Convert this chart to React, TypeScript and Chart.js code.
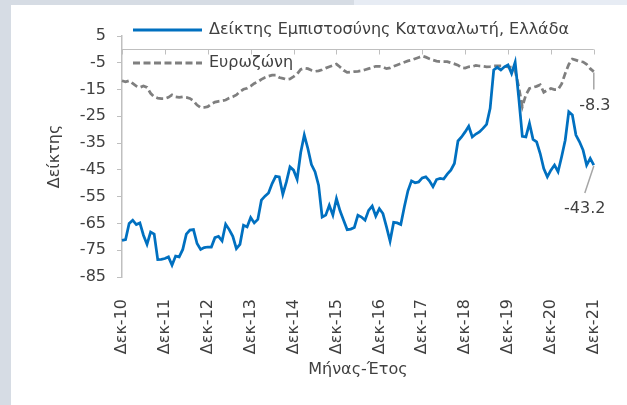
import React, { useEffect, useRef } from "react";
import { Chart, registerables } from "chart.js";
Chart.register(...registerables);

const monthNames = ["Ιαν", "Φεβ", "Μαρ", "Απρ", "Μαΐ", "Ιουν", "Ιουλ", "Αυγ", "Σεπ", "Οκτ", "Νοε", "Δεκ"];
const yearTicks = ["Δεκ-10", "Δεκ-11", "Δεκ-12", "Δεκ-13", "Δεκ-14", "Δεκ-15", "Δεκ-16", "Δεκ-17", "Δεκ-18", "Δεκ-19", "Δεκ-20", "Δεκ-21"];
const seriesNames = ["Δείκτης Εμπιστοσύνης Καταναλωτή, Ελλάδα", "Ευρωζώνη"];
const xTitle = "Μήνας-Έτος";
const yTitle = "Δείκτης";
const yMin = -85;
const yMax = 5;
const yStep = 10;

// Greece consumer confidence, monthly Dec-2010 .. Dec-2021
const greece = [
  -71.3, -71.0, -65.0, -63.8, -65.4, -64.8, -69.4, -72.8, -68.2, -69.0, -78.5, -78.4,
  -78.1, -77.5, -80.6, -77.2, -77.5, -74.7, -69.0, -67.5, -67.3, -72.5, -74.7, -74.0,
  -73.8, -73.8, -70.3, -69.8, -71.5, -65.3, -67.3, -69.8, -74.4, -72.8, -65.7, -66.3,
  -62.8, -64.8, -63.5, -56.3, -54.8, -53.6, -50.1, -47.4, -47.6, -54.1, -49.5, -43.9,
  -45.1, -48.5, -38.5, -32.0, -37.0, -43.0, -45.7, -50.7, -62.6, -61.9, -58.2, -61.9,
  -55.7, -60.3, -63.8, -67.3, -67.1, -66.5, -61.9, -62.6, -63.8, -60.1, -58.5, -62.3,
  -59.5, -61.3, -66.3, -71.6, -64.6, -64.8, -65.4, -58.8, -52.8, -49.1, -49.8, -49.5,
  -48.0, -47.6, -49.1, -51.3, -48.6, -48.2, -48.4, -46.6, -45.1, -42.6, -34.2, -32.7,
  -30.8, -28.7, -32.7, -31.6, -30.8, -29.5, -28.0, -22.0, -7.7, -6.7, -7.7, -6.5,
  -5.8, -9.0, -4.8, -18.0, -32.5, -32.7, -27.6, -33.6, -34.5, -38.9, -44.5, -47.6,
  -45.1, -43.2, -45.7, -40.1, -33.9, -23.3, -24.5, -32.0, -34.5, -37.6, -43.2, -40.7,
  -43.2,
];

// Euro area consumer confidence, monthly Dec-2010 .. Dec-2021
const eurozone = [
  -11.7, -12.1, -11.7, -12.7, -13.7, -14.2, -13.7, -14.2, -16.4, -17.7, -18.2, -18.4,
  -18.4, -17.9, -17.0, -17.7, -17.9, -17.7, -17.9, -18.3, -19.2, -20.8, -21.7, -21.7,
  -21.4, -20.4, -19.7, -19.4, -19.2, -18.9, -18.2, -17.7, -17.0, -15.8, -14.9, -14.5,
  -13.7, -12.7, -12.1, -11.2, -10.5, -10.0, -9.6, -9.6, -10.5, -10.8, -11.2, -11.0,
  -10.2, -9.2, -7.5, -7.0, -7.2, -7.8, -8.2, -8.0, -7.6, -7.0, -6.5, -6.0,
  -5.5, -6.6, -7.8, -8.6, -8.5, -8.3, -8.2, -8.0, -7.6, -7.2, -6.8, -6.3,
  -6.3, -6.6, -7.2, -6.9, -6.3, -5.8, -5.3, -4.8, -4.3, -4.0, -3.5, -3.0,
  -2.5, -2.9, -3.5, -4.0, -4.4, -4.6, -4.6, -4.6, -5.0, -5.4, -5.9, -6.8,
  -7.0, -6.5, -6.4, -6.0, -6.2, -6.3, -6.5, -6.4, -6.2, -6.2, -6.2, -6.3,
  -6.5, -6.6, -8.0, -14.0, -21.4, -17.0, -14.6, -14.2, -13.8, -13.2, -16.0, -15.2,
  -14.6, -15.0, -15.0, -12.9, -9.0, -5.6, -3.6, -4.0, -4.5, -4.7, -5.6, -7.2,
  -8.3,
];

const categories: string[] = [];
for (let i = 0; i < greece.length; i++) {
  const k = 11 + i;
  categories.push(`${monthNames[k % 12]}-${10 + Math.floor(k / 12)}`);
}

const FONT = "'DejaVu Sans', sans-serif";
const TEXT = "#404040";
const AXIS = "#bfbfbf";
const BLUE = "#0070c0";
const GREY = "#7f7f7f";
const LEADER = "#a6a6a6";
const DASH = [7, 3.5];

const overlay = {
  id: "overlay",
  beforeDatasetsDraw(chart: any) {
    const { ctx, chartArea, scales } = chart;
    const xs = scales.x;
    const ys = scales.y;
    const y0 = Math.round(ys.getPixelForValue(0)) + 0.5;
    ctx.save();
    ctx.strokeStyle = AXIS;
    ctx.lineWidth = 1;
    ctx.beginPath();
    ctx.moveTo(chartArea.left, y0);
    ctx.lineTo(chartArea.right, y0);
    categories.forEach((c, i) => {
      if (yearTicks.includes(c)) {
        const px = Math.round(xs.getPixelForValue(i)) + 0.5;
        ctx.moveTo(px, y0);
        ctx.lineTo(px, y0 + 5);
      }
    });
    ctx.stroke();
    ctx.restore();
  },
  afterDatasetsDraw(chart: any) {
    const { ctx, chartArea, scales } = chart;
    const xs = scales.x;
    const ys = scales.y;
    ctx.save();
    ctx.font = `16px ${FONT}`;
    ctx.fillStyle = TEXT;
    ctx.textBaseline = "middle";
    ctx.textAlign = "left";
    // legend
    const lx0 = chartArea.left + 11;
    const lx1 = chartArea.left + 80;
    const ly1 = chartArea.top - 6;
    const ly2 = chartArea.top + 27;
    ctx.lineWidth = 3;
    ctx.strokeStyle = BLUE;
    ctx.setLineDash([]);
    ctx.beginPath();
    ctx.moveTo(lx0, ly1);
    ctx.lineTo(lx1, ly1);
    ctx.stroke();
    ctx.strokeStyle = GREY;
    ctx.setLineDash(DASH);
    ctx.beginPath();
    ctx.moveTo(lx0, ly2);
    ctx.lineTo(lx1, ly2);
    ctx.stroke();
    ctx.setLineDash([]);
    ctx.fillText(seriesNames[0], lx1 + 7, ly1);
    ctx.fillText(seriesNames[1], lx1 + 7, ly2);

    // axis titles
    ctx.textAlign = "center";
    ctx.fillText(xTitle, (chartArea.left + chartArea.right) / 2, 370);
    ctx.save();
    ctx.translate(chartArea.left - 67, (chartArea.top + chartArea.bottom) / 2);
    ctx.rotate(-Math.PI / 2);
    ctx.fillText(yTitle, 0, 0);
    ctx.restore();

    // end-point labels with leader lines
    const last = greece.length - 1;
    const px = xs.getPixelForValue(last);
    const eVal = eurozone[last];
    const gVal = greece[last];
    const ey = ys.getPixelForValue(eVal);
    const gy = ys.getPixelForValue(gVal);
    ctx.strokeStyle = LEADER;
    ctx.lineWidth = 1.5;
    ctx.beginPath();
    ctx.moveTo(px, ey + 1);
    ctx.lineTo(px, ey + 18);
    ctx.moveTo(px, gy + 1);
    ctx.lineTo(px - 9, gy + 28);
    ctx.stroke();
    ctx.fillText(eVal.toFixed(1), px + 1, ey + 34);
    ctx.fillText(gVal.toFixed(1), px - 9, gy + 44);
    ctx.restore();
  },
};

export default function App() {
  const ref = useRef<HTMLCanvasElement | null>(null);
  useEffect(() => {
    if (!ref.current) return;
    const chart = new Chart(ref.current, {
      type: "line",
      data: {
        labels: categories,
        datasets: [
          {
            label: seriesNames[0],
            data: greece,
            borderColor: BLUE,
            borderWidth: 2.75,
            pointRadius: 0,
            tension: 0,
            fill: false,
          },
          {
            label: seriesNames[1],
            data: eurozone,
            borderColor: GREY,
            borderWidth: 2.75,
            borderDash: DASH,
            pointRadius: 0,
            tension: 0,
            fill: false,
          },
        ],
      },
      options: {
        animation: false,
        responsive: false,
        maintainAspectRatio: false,
        devicePixelRatio: 1,
        layout: { padding: { top: 36, right: 28, left: 0, bottom: 0 } },
        plugins: {
          legend: { display: false },
          tooltip: { enabled: false },
          title: { display: false },
        },
        scales: {
          x: {
            type: "category",
            offset: false,
            grid: { display: false },
            border: { display: false },
            ticks: {
              autoSkip: false,
              minRotation: 90,
              maxRotation: 90,
              padding: 14,
              color: TEXT,
              font: { family: FONT, size: 16 },
              callback: (_v: any, i: number) => (yearTicks.includes(categories[i]) ? categories[i] : ""),
            },
            afterFit: (s: any) => {
              s.height = 128;
            },
          },
          y: {
            type: "linear",
            min: yMin,
            max: yMax,
            grid: { display: true, drawOnChartArea: false, drawTicks: true, tickLength: 5, color: AXIS },
            border: { display: true, color: AXIS, width: 1.5 },
            ticks: {
              stepSize: yStep,
              padding: 11,
              color: TEXT,
              font: { family: FONT, size: 16 },
            },
            afterFit: (s: any) => {
              s.width = 122;
            },
          },
        },
      },
      plugins: [overlay],
    });
    return () => chart.destroy();
  }, []);

  return (
    <div style={{ position: "fixed", left: 0, top: 0, width: 627, height: 405, background: "#d6dce4", overflow: "hidden" }}>
      <div style={{ position: "absolute", left: 354, top: 0, right: 0, height: 5, background: "#e7ecf4" }} />
      <div style={{ position: "absolute", left: 11, top: 5, right: 0, bottom: 0, background: "#ffffff" }} />
      <canvas ref={ref} width={627} height={405} style={{ position: "absolute", left: 0, top: 0, width: 627, height: 405 }} />
    </div>
  );
}
